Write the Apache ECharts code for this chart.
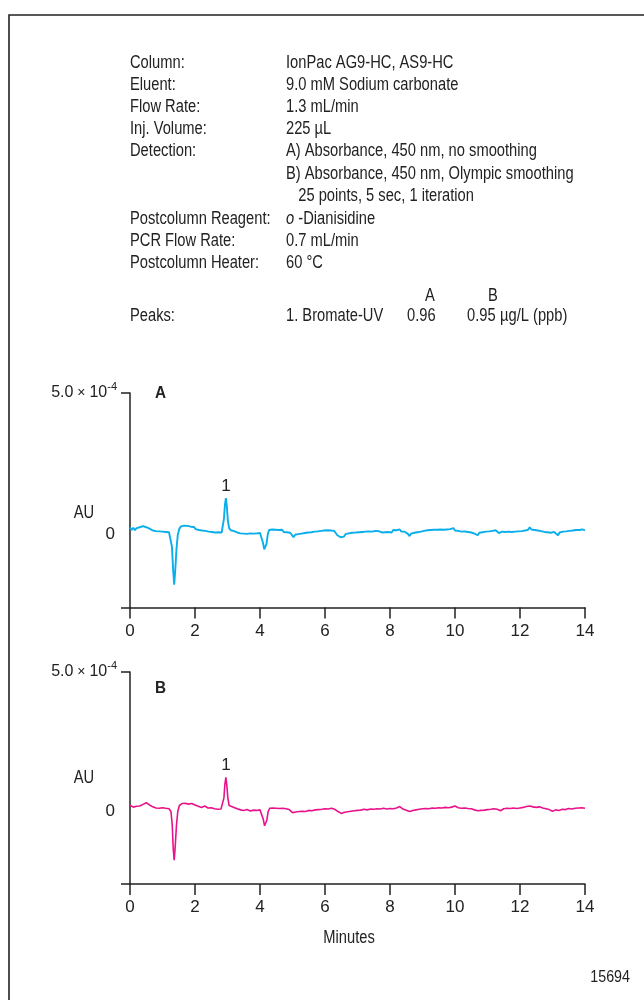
<!DOCTYPE html>
<html>
<head>
<meta charset="utf-8">
<script src="https://cdn.jsdelivr.net/npm/echarts@6/dist/echarts.min.js"></script>
<style>
  html, body { margin: 0; padding: 0; background: #fff; }
  #chart { width: 644px; height: 1000px; }
</style>
</head>
<body>
<div id="chart"></div>
<script>
// Absorbance values in units of 1e-4 AU, time in minutes.
const traceA = [
  [0.00,0.14],[0.05,0.05],[0.10,0.13],[0.15,0.04],[0.20,0.12],[0.25,0.06],[0.30,0.15],[0.35,0.08],[0.40,0.19],[0.45,0.24],
  [0.50,0.15],[0.55,0.21],[0.60,0.10],[0.65,0.16],[0.70,0.03],[0.75,0.10],[0.80,0.01],[0.85,0.08],[0.90,0.00],[0.95,0.07],
  [1.00,-0.01],[1.05,0.06],[1.10,-0.02],[1.15,0.04],[1.20,-0.03],[1.25,-0.08],[1.29,-0.55],[1.33,-1.45],[1.36,-1.93],[1.39,-1.45],
  [1.43,-0.65],[1.47,-0.12],[1.52,0.10],[1.57,0.18],[1.62,0.14],[1.67,0.21],[1.72,0.15],[1.77,0.20],[1.82,0.13],[1.87,0.17],
  [1.92,0.11],[1.97,0.16],[2.02,0.08],[2.07,0.13],[2.12,0.05],[2.17,0.11],[2.22,0.03],[2.27,0.09],[2.32,0.02],[2.37,0.08],
  [2.42,-0.01],[2.47,0.06],[2.52,-0.02],[2.57,0.04],[2.62,-0.04],[2.67,0.03],[2.72,-0.03],[2.77,0.02],[2.82,-0.04],[2.86,0.03],
  [2.89,0.45],[2.92,0.95],[2.95,1.20],[2.98,0.90],[3.01,0.40],[3.05,0.12],[3.10,0.04],[3.15,0.09],[3.20,0.01],[3.25,0.06],
  [3.30,-0.04],[3.35,0.02],[3.40,-0.07],[3.45,0.00],[3.50,-0.08],[3.55,-0.01],[3.60,-0.09],[3.65,-0.02],[3.70,-0.07],[3.75,0.00],
  [3.80,-0.08],[3.85,-0.02],[3.90,-0.07],[3.95,0.00],[4.00,-0.06],[4.05,-0.12],[4.09,-0.40],[4.13,-0.65],[4.16,-0.70],[4.20,-0.45],
  [4.24,-0.10],[4.28,0.05],[4.33,0.00],[4.38,0.07],[4.43,0.00],[4.48,0.06],[4.53,-0.01],[4.58,0.05],[4.63,-0.01],[4.68,0.06],
  [4.73,-0.02],[4.78,0.04],[4.83,-0.03],[4.88,0.03],[4.93,-0.05],[4.98,-0.12],[5.03,-0.21],[5.08,-0.12],[5.13,-0.19],[5.18,-0.10],
  [5.23,-0.16],[5.28,-0.08],[5.33,-0.14],[5.38,-0.06],[5.43,-0.12],[5.48,-0.04],[5.53,-0.10],[5.58,-0.03],[5.63,-0.09],[5.68,-0.01],
  [5.73,-0.07],[5.78,0.00],[5.83,-0.06],[5.88,0.02],[5.93,-0.04],[5.98,0.03],[6.03,-0.03],[6.08,0.04],[6.13,-0.02],[6.18,0.03],
  [6.23,-0.04],[6.28,0.02],[6.33,-0.06],[6.38,-0.14],[6.43,-0.09],[6.48,-0.21],[6.53,-0.14],[6.58,-0.19],[6.63,-0.10],[6.68,-0.15],
  [6.73,-0.07],[6.78,-0.13],[6.83,-0.05],[6.88,-0.11],[6.95,-0.04],[7.00,-0.10],[7.05,-0.03],[7.10,-0.09],[7.15,-0.02],[7.20,-0.08],
  [7.25,-0.01],[7.30,-0.07],[7.35,0.00],[7.40,-0.07],[7.45,-0.01],[7.50,-0.05],[7.55,0.02],[7.60,-0.05],[7.65,0.01],[7.70,0.03],
  [7.75,-0.04],[7.80,0.02],[7.85,-0.03],[7.90,0.04],[7.95,-0.02],[8.00,0.03],[8.05,-0.04],[8.10,0.05],[8.15,-0.01],[8.20,0.04],
  [8.25,-0.02],[8.30,0.07],[8.35,-0.01],[8.40,-0.07],[8.45,-0.01],[8.50,-0.06],[8.55,-0.09],[8.60,-0.17],[8.65,-0.08],[8.70,-0.13],
  [8.75,-0.05],[8.80,-0.11],[8.85,-0.03],[8.90,-0.08],[8.95,-0.01],[9.00,-0.06],[9.05,0.02],[9.10,-0.03],[9.15,0.04],[9.20,-0.02],
  [9.25,0.05],[9.30,-0.01],[9.35,0.06],[9.40,0.00],[9.45,0.06],[9.50,0.01],[9.55,0.07],[9.60,0.00],[9.65,0.06],[9.70,0.01],
  [9.75,0.07],[9.80,0.02],[9.85,0.08],[9.90,0.03],[9.95,0.12],[10.00,0.03],[10.05,0.08],[10.10,0.02],[10.15,0.07],[10.20,-0.01],
  [10.25,0.05],[10.30,0.00],[10.35,0.06],[10.40,-0.02],[10.45,0.04],[10.50,-0.04],[10.55,0.00],[10.60,-0.08],[10.65,-0.03],[10.70,-0.14],
  [10.75,-0.05],[10.80,-0.10],[10.85,-0.03],[10.90,-0.09],[10.95,-0.01],[11.00,-0.07],[11.05,0.00],[11.10,-0.06],[11.15,0.02],[11.20,-0.03],
  [11.25,0.04],[11.30,-0.02],[11.35,-0.06],[11.40,-0.11],[11.45,-0.01],[11.50,0.03],[11.55,-0.02],[11.60,0.05],[11.65,-0.01],[11.70,0.04],
  [11.75,-0.02],[11.80,0.05],[11.85,-0.01],[11.90,0.04],[11.95,0.00],[12.00,0.06],[12.05,0.01],[12.10,0.07],[12.15,0.03],[12.20,0.10],
  [12.25,0.06],[12.30,0.15],[12.35,0.07],[12.40,0.12],[12.45,0.05],[12.50,0.11],[12.55,0.03],[12.60,0.08],[12.65,0.01],[12.70,0.06],
  [12.75,-0.02],[12.80,0.03],[12.85,-0.03],[12.90,0.02],[12.95,-0.05],[13.00,-0.09],[13.05,-0.02],[13.10,-0.07],[13.17,-0.14],[13.22,-0.04],
  [13.27,-0.09],[13.32,-0.01],[13.37,-0.07],[13.42,0.00],[13.47,-0.06],[13.52,0.02],[13.57,-0.04],[13.62,0.03],[13.67,-0.02],[13.72,0.05],
  [13.77,-0.01],[13.82,0.05],[13.87,0.00],[13.92,0.07],[13.97,0.00],[14.00,0.04]
];

const traceB = [
  [0.00,0.13],[0.10,0.06],[0.20,0.09],[0.30,0.10],[0.40,0.16],[0.50,0.22],[0.60,0.14],[0.70,0.07],[0.80,0.03],[0.90,0.02],
  [1.00,0.04],[1.10,0.02],[1.20,0.00],[1.26,-0.10],[1.30,-0.60],[1.33,-1.45],[1.36,-1.88],[1.39,-1.40],[1.43,-0.60],[1.47,-0.10],
  [1.52,0.12],[1.60,0.19],[1.70,0.20],[1.80,0.17],[1.90,0.19],[2.00,0.14],[2.10,0.09],[2.20,0.05],[2.30,0.10],[2.40,0.03],
  [2.50,0.04],[2.60,0.00],[2.70,-0.02],[2.80,-0.01],[2.86,0.02],[2.89,0.40],[2.92,0.90],[2.95,1.15],[2.98,0.85],[3.01,0.40],
  [3.05,0.12],[3.10,0.07],[3.20,0.05],[3.30,0.00],[3.40,-0.04],[3.50,-0.06],[3.60,-0.03],[3.70,-0.08],[3.80,-0.05],[3.90,-0.06],
  [4.00,-0.04],[4.06,-0.10],[4.10,-0.38],[4.14,-0.62],[4.17,-0.66],[4.21,-0.42],[4.25,-0.10],[4.30,0.02],[4.40,0.03],[4.50,0.02],
  [4.60,0.01],[4.70,0.02],[4.80,0.00],[4.90,-0.03],[5.00,-0.14],[5.10,-0.12],[5.20,-0.10],[5.30,-0.09],[5.40,-0.10],[5.50,-0.06],
  [5.60,-0.07],[5.70,-0.04],[5.80,-0.03],[5.90,-0.02],[6.00,0.00],[6.10,-0.01],[6.20,0.02],[6.30,-0.02],[6.40,-0.10],[6.50,-0.17],
  [6.60,-0.13],[6.70,-0.11],[6.80,-0.09],[6.90,-0.07],[7.00,-0.06],[7.10,-0.05],[7.20,-0.02],[7.30,-0.04],[7.40,-0.01],[7.50,-0.02],
  [7.60,0.00],[7.70,-0.01],[7.80,0.02],[7.90,-0.01],[8.00,0.01],[8.10,0.00],[8.20,0.03],[8.30,0.08],[8.40,-0.01],[8.50,-0.05],
  [8.60,-0.10],[8.70,-0.06],[8.80,-0.04],[8.90,-0.02],[9.00,0.00],[9.10,0.01],[9.20,0.00],[9.30,0.03],[9.40,0.02],[9.50,0.04],
  [9.60,0.03],[9.70,0.05],[9.80,0.04],[9.90,0.06],[10.00,0.10],[10.10,0.04],[10.20,0.02],[10.30,0.03],[10.40,0.01],[10.50,0.00],
  [10.60,-0.04],[10.70,-0.07],[10.80,-0.06],[10.90,-0.05],[11.00,-0.03],[11.10,-0.02],[11.20,0.00],[11.30,-0.02],[11.40,-0.07],[11.50,0.00],
  [11.60,0.02],[11.70,0.01],[11.80,0.03],[11.90,0.01],[12.00,0.03],[12.10,0.05],[12.20,0.08],[12.30,0.10],[12.40,0.07],[12.50,0.05],
  [12.60,0.07],[12.70,0.03],[12.80,0.00],[12.90,-0.03],[13.00,-0.09],[13.10,-0.04],[13.20,-0.06],[13.30,-0.02],[13.40,-0.03],[13.50,0.01],
  [13.60,-0.01],[13.70,0.02],[13.80,0.03],[13.90,0.04],[14.00,0.02]
];

// Labelled peak (retention time of peak 1 in each trace)
const peakA = { name: '1', t: 2.95 };
const peakB = { name: '1', t: 2.95 };

// Axis settings
const timeMin = 0, timeMax = 14, timeStep = 2;
const yMin = -2.75, yMax = 5.0;
const yLabelValues = [0, 5];

// Method conditions
const conditionLabels = ['Column:', 'Eluent:', 'Flow Rate:', 'Inj. Volume:', 'Detection:', '', '', 'Postcolumn Reagent:', 'PCR Flow Rate:', 'Postcolumn Heater:'];
const conditionValues = ['IonPac AG9-HC, AS9-HC', '9.0 mM Sodium carbonate', '1.3 mL/min', '225 µL',
  'A) Absorbance, 450 nm, no smoothing', 'B) Absorbance, 450 nm, Olympic smoothing', '   25 points, 5 sec, 1 iteration',
  '{i|o} -Dianisidine', '0.7 mL/min', '60 °C'];
const peakNames = ['1. Bromate-UV'];
const peakAmountsA = ['0.96'];
const peakAmountsB = ['0.95'];
const amountUnit = 'µg/L (ppb)';

const FONT = '"Liberation Sans", Arial, Helvetica, sans-serif';
const NARROW = 0.84;   // horizontal squeeze giving a condensed face
const INK = '#222';
const fs = 17.5;
const axFs = 17;

const chart = echarts.init(document.getElementById('chart'), null, { renderer: 'canvas' });

// Marker carrying the peak number, placed on the trace's own point
function peakMarker(trace, peak) {
  const pt = trace.find(p => p[0] === peak.t);
  return {
    symbol: 'circle', symbolSize: 1, silent: true,
    itemStyle: { color: 'rgba(0,0,0,0)' },
    label: { show: true, position: 'top', distance: 3, formatter: peak.name, fontSize: axFs, fontFamily: FONT, color: INK },
    data: [{ coord: pt }]
  };
}

function yLabelFmt(v) {
  if (v === 0) return '{z|0}';
  return '{n|' + v.toFixed(1) + '}{x| × }{n|10}{s|-4}';
}

const axisLineStyle = { color: INK, width: 1.5 };

function makeX(gridIndex) {
  return {
    type: 'value', gridIndex, min: timeMin, max: timeMax, interval: timeStep,
    axisLine: { show: true, onZero: false, lineStyle: axisLineStyle },
    axisTick: { show: true, length: 11, inside: false, lineStyle: axisLineStyle },
    axisLabel: { margin: 15, fontSize: axFs, fontFamily: FONT, color: INK },
    splitLine: { show: false }
  };
}
function makeY(gridIndex) {
  return {
    type: 'value', gridIndex, min: yMin, max: yMax,
    axisLine: { show: true, onZero: false, lineStyle: axisLineStyle },
    axisTick: { show: true, length: 9, customValues: [yMin, yMax], lineStyle: axisLineStyle },
    axisLabel: {
      customValues: yLabelValues, margin: 13, formatter: yLabelFmt, color: INK, fontFamily: FONT,
      rich: {
        n: { fontSize: 16, fontFamily: FONT, color: INK },
        x: { fontSize: 14, fontFamily: FONT, color: INK },
        s: { fontSize: 11, fontFamily: FONT, color: INK, padding: [0, 0, 12, 0] },
        z: { fontSize: axFs, fontFamily: FONT, color: INK, padding: [6, 2, 0, 0] }
      }
    },
    splitLine: { show: false }
  };
}

// Text block: conditions and peak table
const graphics = [];
graphics.push({ type: 'rect', shape: { x: 9, y: 15, width: 1000, height: 1200 }, style: { fill: 'none', stroke: INK, lineWidth: 1.6 }, silent: true, z: 0 });
const rowY = [63, 85, 107, 129, 151, 174, 196, 219, 241, 263];
const richTxt = {
  i: { fontSize: fs, fontFamily: FONT, fontStyle: 'italic', fill: INK }
};
function txt(x, y, text, extra, sx) {
  return { type: 'text', x, y, silent: true, scaleX: sx === undefined ? NARROW : sx,
    style: Object.assign({ text, fill: INK, fontSize: fs, fontFamily: FONT, verticalAlign: 'middle', align: 'left', rich: richTxt }, extra || {}) };
}
conditionLabels.forEach((t, i) => { if (t) graphics.push(txt(130, rowY[i], t)); });
conditionValues.forEach((t, i) => graphics.push(txt(286, rowY[i], t)));
graphics.push(txt(430, 296, 'A', { align: 'center' }));
graphics.push(txt(493, 296, 'B', { align: 'center' }));
graphics.push(txt(130, 316, 'Peaks:'));
peakNames.forEach((n, i) => {
  graphics.push(txt(286, 316 + i * 22, n));
  graphics.push(txt(407, 316 + i * 22, peakAmountsA[i]));
  graphics.push(txt(467, 316 + i * 22, peakAmountsB[i]));
  graphics.push(txt(500, 316 + i * 22, amountUnit));
});
// Panel annotations
graphics.push(txt(155, 393, 'A', { fontWeight: 'bold', fontSize: 17 }, 0.9));
graphics.push(txt(155, 688, 'B', { fontWeight: 'bold', fontSize: 17 }, 0.9));
graphics.push(txt(84, 513, 'AU', { align: 'center' }));
graphics.push(txt(84, 778, 'AU', { align: 'center' }));
graphics.push(txt(349, 938, 'Minutes', { align: 'center' }));
graphics.push(txt(630, 977, '15694', { align: 'right', fontSize: 17 }));

const option = {
  animation: false,
  backgroundColor: '#fff',
  grid: [
    { left: 130, top: 393, width: 455, height: 214.5 },
    { left: 130, top: 672, width: 455, height: 212 }
  ],
  xAxis: [makeX(0), makeX(1)],
  yAxis: [makeY(0), makeY(1)],
  series: [
    { type: 'line', xAxisIndex: 0, yAxisIndex: 0, data: traceA, symbol: 'none', showSymbol: false,
      lineStyle: { color: '#0AAEEA', width: 1.9 }, itemStyle: { color: '#0AAEEA' }, z: 3,
      markPoint: peakMarker(traceA, peakA) },
    { type: 'line', xAxisIndex: 1, yAxisIndex: 1, data: traceB, symbol: 'none', showSymbol: false,
      lineStyle: { color: '#E8128A', width: 1.6 }, itemStyle: { color: '#E8128A' }, z: 3,
      markPoint: peakMarker(traceB, peakB) }
  ],
  graphic: graphics
};
chart.setOption(option);
</script>
</body>
</html>
